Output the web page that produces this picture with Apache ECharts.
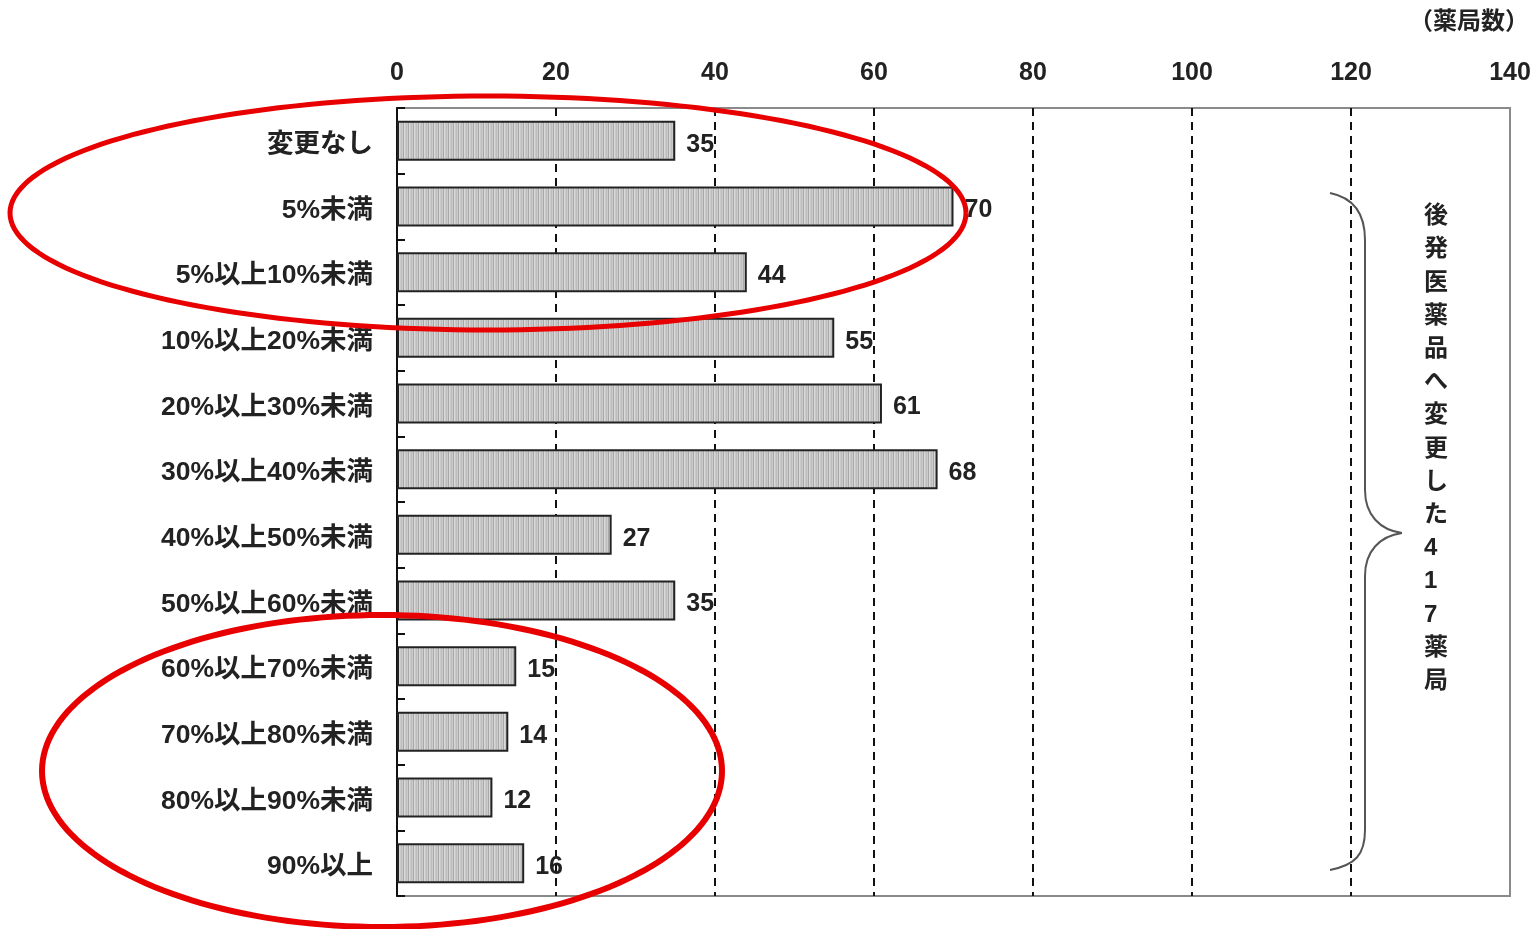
<!DOCTYPE html>
<html><head><meta charset="utf-8">
<script src="https://cdn.jsdelivr.net/npm/echarts@6/dist/echarts.min.js"></script>
<style>html,body{margin:0;padding:0;background:#fff}#c{width:1535px;height:929px}</style>
</head><body><div id="c"></div>
<script>
const categories = ['変更なし','5%未満','5%以上10%未満','10%以上20%未満','20%以上30%未満','30%以上40%未満','40%以上50%未満','50%以上60%未満','60%以上70%未満','70%以上80%未満','80%以上90%未満','90%以上'];
const values = [35,70,44,55,61,68,27,35,15,14,12,16];
const xTicks = [0,20,40,60,80,100,120,140];
const unitLabel = '（薬局数）';
const braceText = '後発医薬品へ変更した417薬局';

const pc = document.createElement('canvas');
pc.width = 5; pc.height = 10;
const g = pc.getContext('2d');
const cols = ['#c9c9c9','#bebebe','#cbcbcb','#a8a8a8','#d9d9d9'];
cols.forEach((c,i)=>{g.fillStyle=c;g.fillRect(i,0,1,10);});

function ellipsePts(cx,cy,rx,ry){
  const p=[];
  for(let i=0;i<=180;i++){const t=i/180*Math.PI*2;p.push([cx+rx*Math.cos(t),cy+ry*Math.sin(t)]);}
  return p;
}
const braceStyle={stroke:'#555',lineWidth:2,fill:null};

const font = '"Liberation Sans", "Noto Sans CJK JP", sans-serif';
const chart = echarts.init(document.getElementById('c'));
chart.setOption({
  animation:false,
  backgroundColor:'#fff',
  grid:{left:397,right:25,top:108,bottom:33,show:true,borderColor:'#8a8a8a',borderWidth:2},
  xAxis:{type:'value',position:'top',min:0,max:140,interval:20,
    axisLine:{show:false},axisTick:{show:false},
    axisLabel:{fontSize:25,color:'#222',fontFamily:font,fontWeight:'bold',margin:22,formatter:v=>xTicks.includes(v)?String(v):''},
    splitLine:{show:true,showMinLine:false,showMaxLine:false,lineStyle:{type:[8,6],color:'#111',width:2}}},
  yAxis:{type:'category',data:categories,inverse:true,
    axisLine:{show:true,lineStyle:{color:'#111',width:2}},
    axisTick:{show:true,inside:true,length:8,lineStyle:{color:'#111',width:2}},
    axisLabel:{margin:24,formatter:v=>'{a|'+v+'}',
      rich:{a:{fontSize:26.5,color:'#222',fontFamily:font,fontWeight:'bold',padding:[8,0,0,0]}}}},
  series:[{type:'bar',data:values,barWidth:40,
    itemStyle:{color:{image:pc,repeat:'repeat'},borderColor:'#222',borderWidth:2},
    label:{show:true,position:'right',distance:11,offset:[0,4],fontSize:25,fontWeight:'bold',color:'#222',fontFamily:font}}],
  graphic:[
    {type:'text',right:6,top:10,style:{text:unitLabel,font:'bold 24px '+font,fill:'#222'}},
    {type:'text',left:1424,top:200,style:{text:braceText.split('').join('\n'),font:'bold 24px '+font,fill:'#222',lineHeight:33.2,align:'center',width:28}},
    {type:'bezierCurve',shape:{x1:1330,y1:193,cpx1:1355,cpy1:198,cpx2:1365,cpy2:215,x2:1365,y2:240},style:braceStyle},
    {type:'line',shape:{x1:1365,y1:240,x2:1365,y2:490},style:braceStyle},
    {type:'bezierCurve',shape:{x1:1365,y1:490,cpx1:1365,cpy1:515,cpx2:1380,cpy2:530,x2:1402,y2:533},style:braceStyle},
    {type:'bezierCurve',shape:{x1:1402,y1:533,cpx1:1380,cpy1:536,cpx2:1365,cpy2:551,x2:1365,y2:576},style:braceStyle},
    {type:'line',shape:{x1:1365,y1:576,x2:1365,y2:830},style:braceStyle},
    {type:'bezierCurve',shape:{x1:1365,y1:830,cpx1:1365,cpy1:855,cpx2:1355,cpy2:865,x2:1330,y2:870},style:braceStyle},
    {type:'polyline',shape:{points:ellipsePts(488,213,478,117)},style:{stroke:'#e80000',lineWidth:5,fill:null},z:100},
    {type:'polyline',shape:{points:ellipsePts(382,771,340,156)},style:{stroke:'#e80000',lineWidth:6,fill:null},z:100}
  ]
});
</script></body></html>
